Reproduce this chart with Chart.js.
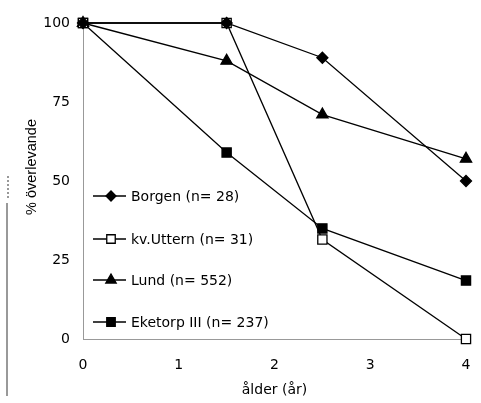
<!DOCTYPE html>
<html>
<head>
<meta charset="utf-8">
<script src="https://cdn.jsdelivr.net/npm/chart.js@4"></script>
<style>
  html, body { margin: 0; padding: 0; background: #fff; }
  #wrap { width: 481px; height: 403px; }
</style>
</head>
<body>
<div id="wrap"><canvas id="overlevnadChart" width="481" height="403"></canvas></div>
<script>
// Ålder (år) för varje mätpunkt
const alder = [0, 1.5, 2.5, 4];

// Serier (% överlevande)
const borgen = [100, 100, 89, 50];
const uttern = [100, 100, 31.5, 0];
const lund = [100, 88, 71, 57];
const eketorp = [100, 59, 35, 18.5];

const serieNamn = ["Borgen (n= 28)", "kv.Uttern (n= 31)", "Lund (n= 552)", "Eketorp III (n= 237)"];
const xTicks = [0, 1, 2, 3, 4];
const yTicks = [0, 25, 50, 75, 100];

const FONT = "'DejaVu Sans', Verdana, sans-serif";

function toPoints(values) {
  return values.map((v, i) => ({ x: alder[i], y: v }));
}

function makeDataset(label, values, style, radius, fill) {
  return {
    label: label,
    data: toPoints(values),
    borderColor: "#000",
    borderWidth: 1.3,
    pointStyle: style,
    pointRadius: radius,
    pointHoverRadius: radius,
    pointBackgroundColor: fill,
    pointBorderColor: "#000",
    pointBorderWidth: 1.3,
    tension: 0,
    clip: false,
  };
}

const datasets = [
  makeDataset(serieNamn[0], borgen, "rectRot", 5.5, "#000"),
  makeDataset(serieNamn[1], uttern, "rect", 6.5, "#fff"),
  makeDataset(serieNamn[2], lund, "triangle", 6.5, "#000"),
  makeDataset(serieNamn[3], eketorp, "rect", 6.5, "#000"),
];

// Legend inne i diagramytan, y-titel och kantlinje från skanningen
const extras = {
  id: "extras",
  afterDraw(chart) {
    const ctx = chart.ctx;
    const rows = [196, 239, 280, 322];
    ctx.save();
    chart.data.datasets.forEach((ds, i) => {
      const y = rows[i];
      ctx.strokeStyle = "#000";
      ctx.lineWidth = 1.3;
      ctx.beginPath();
      ctx.moveTo(93, y);
      ctx.lineTo(126, y);
      ctx.stroke();
      ctx.fillStyle = ds.pointBackgroundColor;
      Chart.helpers.drawPoint(ctx, { pointStyle: ds.pointStyle, radius: ds.pointRadius - 0.5, borderWidth: 1.3, rotation: 0 }, 111, y);
      ctx.fillStyle = "#000";
      ctx.font = "14px " + FONT;
      ctx.textBaseline = "middle";
      ctx.textAlign = "left";
      ctx.fillText(ds.label, 131, y + 1);
    });

    // y-titel
    ctx.translate(32, 167);
    ctx.rotate(-Math.PI / 2);
    ctx.font = "14.5px 'Liberation Sans', Arial, sans-serif";
    ctx.textAlign = "center";
    ctx.textBaseline = "middle";
    ctx.fillText("% överlevande", 0, 0);
    ctx.setTransform(1, 0, 0, 1, 0, 0);

    // grå kant till vänster
    ctx.strokeStyle = "#777";
    ctx.lineWidth = 1.5;
    ctx.beginPath();
    ctx.moveTo(7, 203);
    ctx.lineTo(7, 396);
    ctx.stroke();
    ctx.setLineDash([2, 2]);
    ctx.beginPath();
    ctx.moveTo(8, 176);
    ctx.lineTo(8, 198);
    ctx.stroke();
    ctx.restore();
  },
};

const ctx = document.getElementById("overlevnadChart").getContext("2d");
new Chart(ctx, {
  type: "line",
  data: { datasets: datasets },
  options: {
    responsive: false,
    animation: false,
    layout: { padding: { top: 23, right: 15, left: 0, bottom: 0 } },
    plugins: { legend: { display: false }, tooltip: { enabled: false } },
    scales: {
      x: {
        type: "linear",
        min: 0,
        max: 4,
        afterBuildTicks: (axis) => { axis.ticks = xTicks.map((v) => ({ value: v })); },
        afterFit: (axis) => { axis.height = 64; axis.paddingRight = 0; axis.paddingLeft = 0; },
        grid: { display: false, drawTicks: false },
        border: { display: true, color: "#999", dash: [2, 3], width: 1 },
        ticks: { color: "#000", padding: 18, font: { family: FONT, size: 14 } },
        title: { display: true, text: "ålder (år)", color: "#000", padding: { top: 0, bottom: 4 }, font: { family: FONT, size: 14 } },
      },
      y: {
        min: 0,
        max: 100,
        afterBuildTicks: (axis) => { axis.ticks = yTicks.map((v) => ({ value: v })); },
        afterFit: (axis) => { axis.width = 83; axis.paddingTop = 0; axis.paddingBottom = 0; },
        grid: { display: false, drawTicks: false },
        border: { display: true, color: "#999", dash: [2, 3], width: 1 },
        ticks: { color: "#000", padding: 13, font: { family: FONT, size: 14 } },
        title: { display: false },
      },
    },
  },
  plugins: [extras],
});
</script>
</body>
</html>
